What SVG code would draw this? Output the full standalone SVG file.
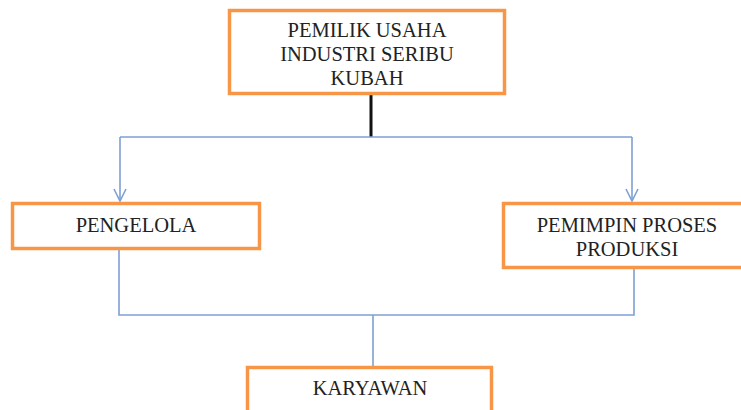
<svg xmlns="http://www.w3.org/2000/svg" width="741" height="410" viewBox="0 0 741 410">
<style>
.box{fill:#fff;stroke:#F79646;stroke-width:3.5}
.t{font-family:"Liberation Serif","Times New Roman",serif;font-size:20.5px;fill:#222;text-anchor:middle}
.c{fill:none;stroke:#7DA0D4;stroke-width:1.6}
</style>
<defs>
<marker id="arr" viewBox="0 0 14 14" refX="13" refY="7" markerWidth="14" markerHeight="14" markerUnits="userSpaceOnUse" orient="auto">
<path d="M1,1 L13,7 L1,13" fill="none" stroke="#7DA0D4" stroke-width="1.6"/>
</marker>
</defs>
<rect width="741" height="410" fill="#fff"/>
<g id="connectors">
<line x1="371" y1="94" x2="371" y2="137" stroke="#111" stroke-width="3"/>
<path class="c" d="M120,137 H632"/>
<path class="c" d="M120,137 V201" marker-end="url(#arr)"/>
<path class="c" d="M632,137 V201" marker-end="url(#arr)"/>
<path class="c" d="M119,249 V315 H634 V269"/>
<path class="c" d="M373,315 V366"/>
</g>
<g id="pemilik">
<rect class="box" x="229.5" y="10.5" width="275" height="83"/>
<text class="t" x="367" y="37">PEMILIK USAHA</text>
<text class="t" x="367" y="61">INDUSTRI SERIBU</text>
<text class="t" x="367" y="85">KUBAH</text>
</g>
<g id="pengelola">
<rect class="box" x="12.5" y="203.5" width="247" height="45"/>
<text class="t" x="136" y="232">PENGELOLA</text>
</g>
<g id="pemimpin">
<rect class="box" x="503.5" y="203.5" width="245" height="64"/>
<text class="t" x="627" y="232">PEMIMPIN PROSES</text>
<text class="t" x="627" y="256">PRODUKSI</text>
</g>
<g id="karyawan">
<rect class="box" x="247.5" y="367.5" width="244" height="50"/>
<text class="t" x="370" y="395">KARYAWAN</text>
</g>
</svg>
